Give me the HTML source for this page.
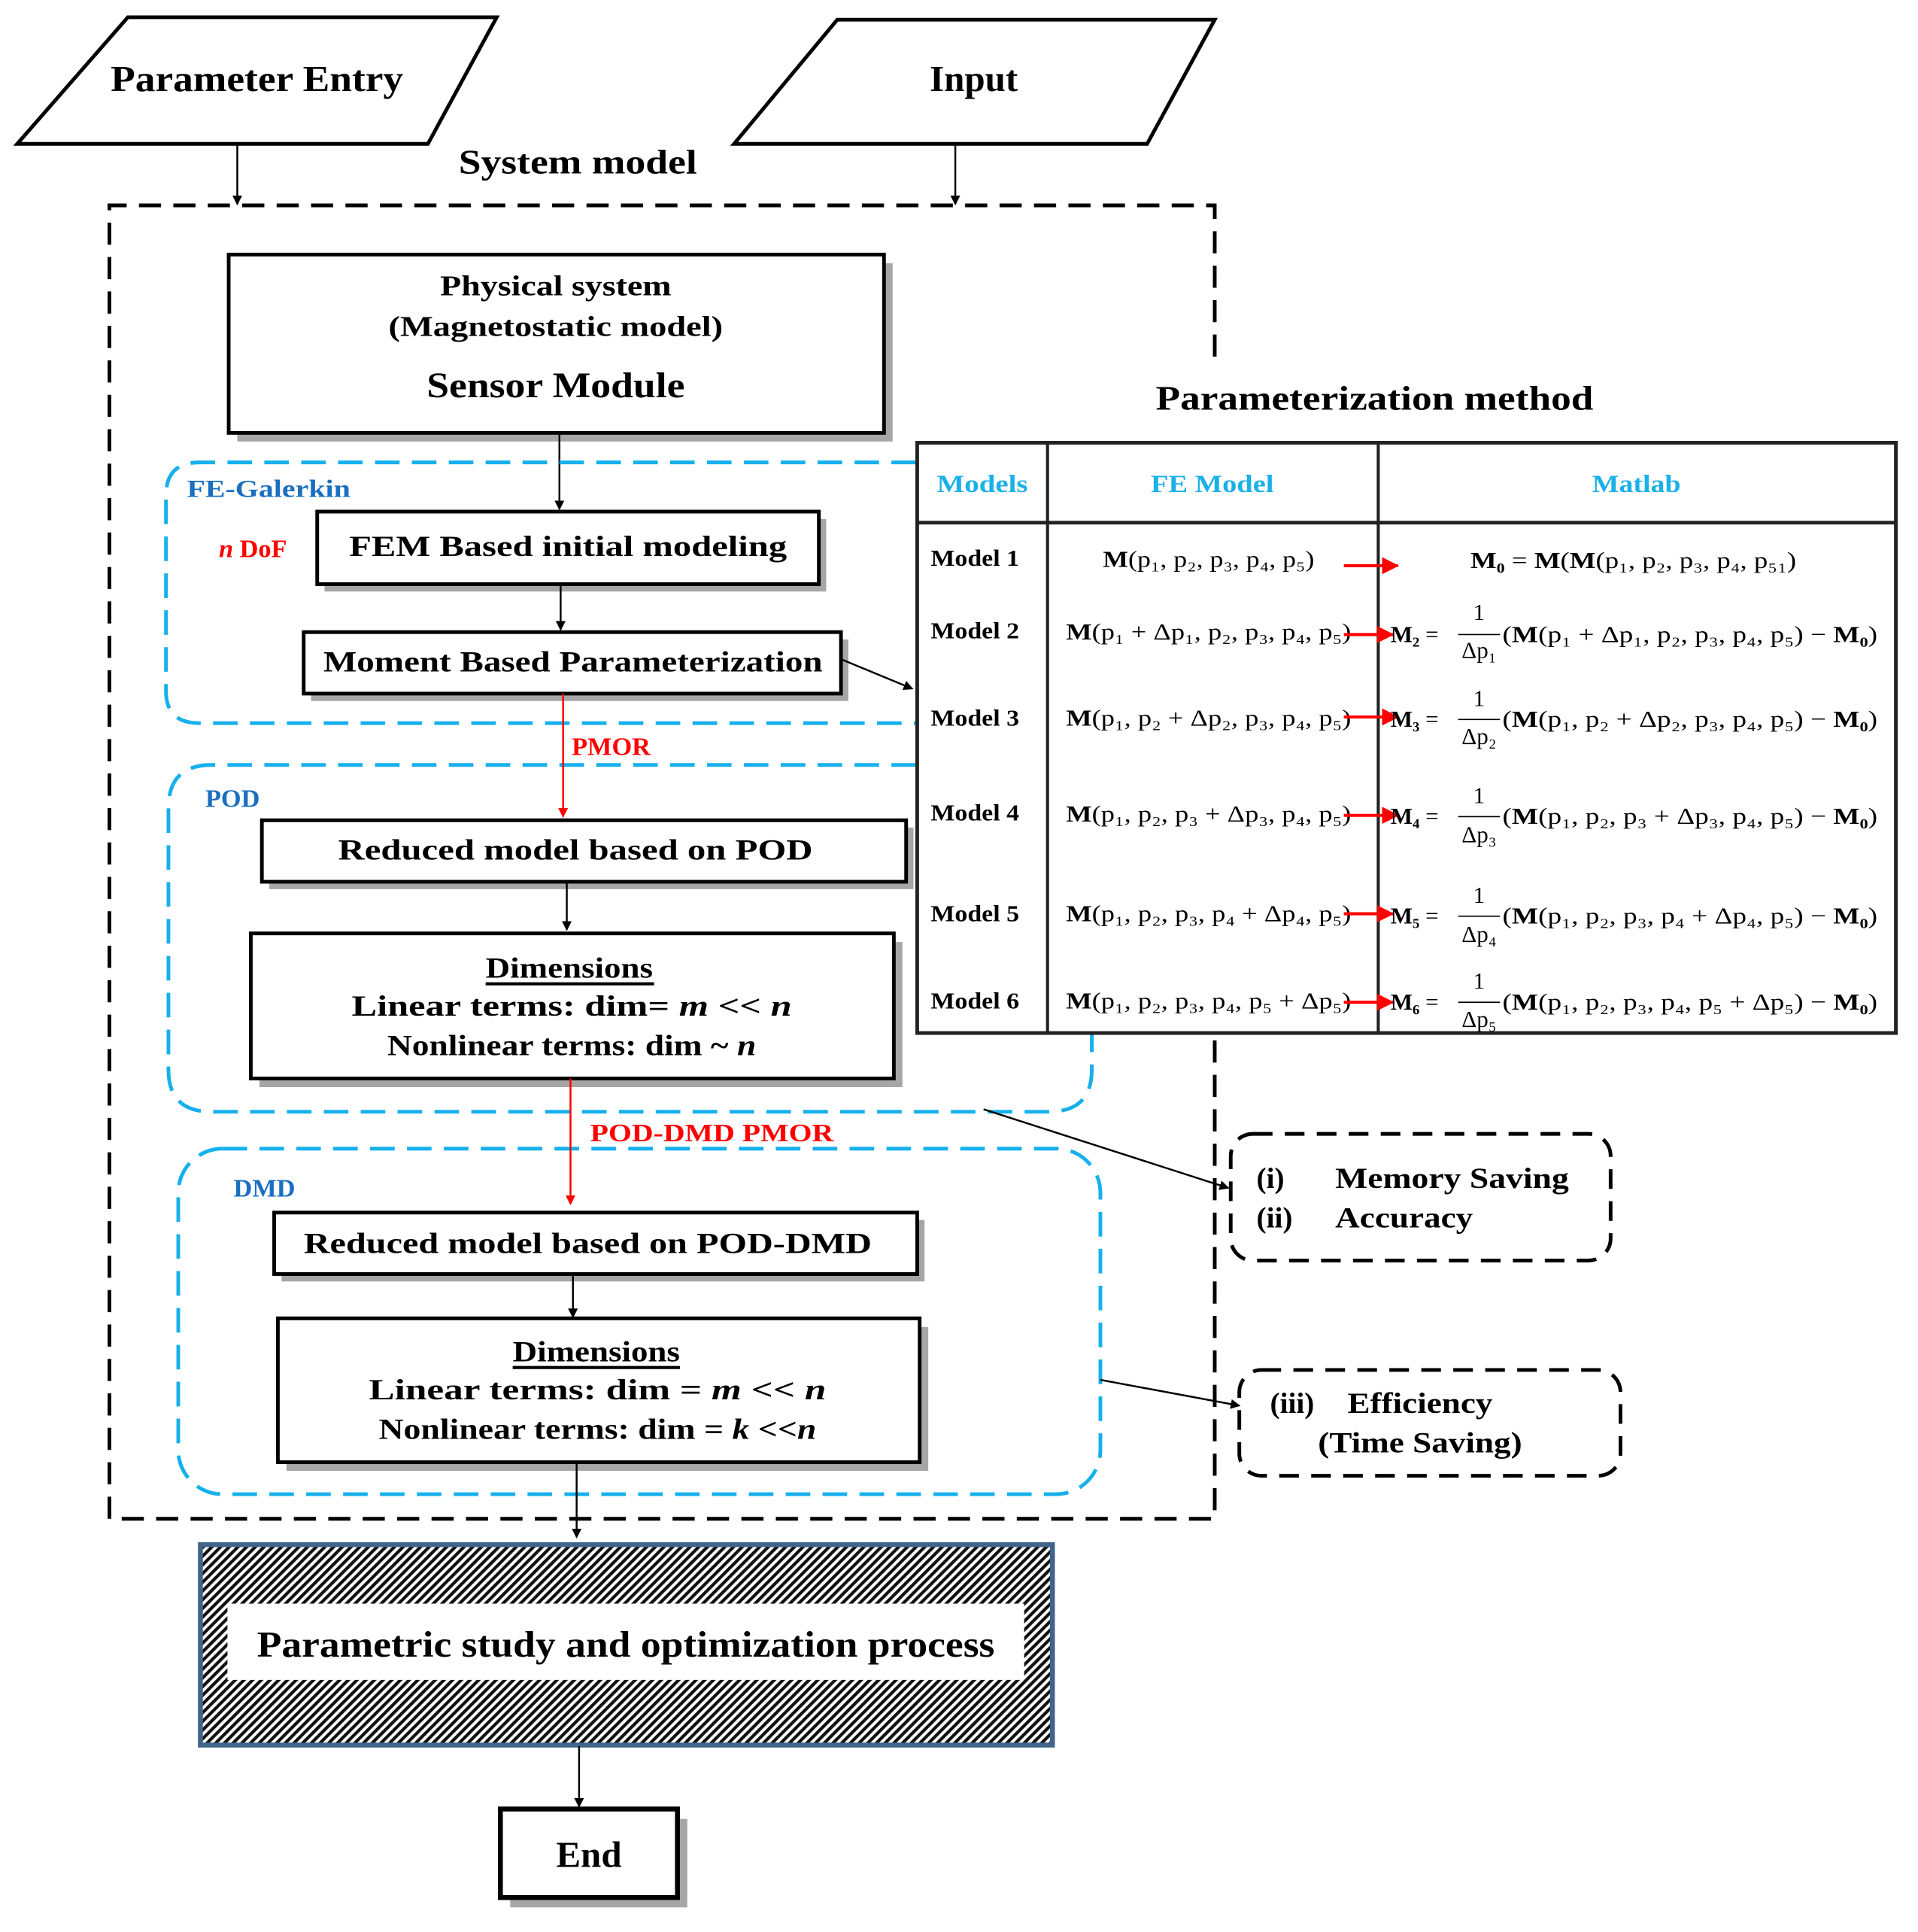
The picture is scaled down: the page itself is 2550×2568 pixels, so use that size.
<!DOCTYPE html>
<html><head><meta charset="utf-8"><style>html,body{margin:0;padding:0;background:#fff}svg{display:block}</style></head>
<body>
<svg width="2550" height="2568" viewBox="0 0 1560 1571" xmlns="http://www.w3.org/2000/svg" font-family="'Liberation Serif', serif" font-weight="bold">
<defs>
<marker id="ah" markerWidth="8" markerHeight="8" refX="7" refY="4" orient="auto" markerUnits="userSpaceOnUse"><path d="M0,0 L8,4 L0,8 z" fill="#000"/></marker>
<marker id="ahr" markerWidth="8" markerHeight="8" refX="7" refY="4" orient="auto" markerUnits="userSpaceOnUse"><path d="M0,0 L8,4 L0,8 z" fill="#f00"/></marker>
<marker id="ahR" markerWidth="14" markerHeight="14" refX="13" refY="7" orient="auto" markerUnits="userSpaceOnUse"><path d="M0,0 L14,7 L0,14 z" fill="#f00"/></marker>
<pattern id="hatch" width="5" height="5" patternUnits="userSpaceOnUse" patternTransform="rotate(45)"><rect width="5" height="5" fill="#fff"/><rect width="2.6" height="5" fill="#111"/></pattern>
</defs>

<polygon points="14,117 104,14 404,14 348,117" fill="#fff" stroke="#000" stroke-width="3"/>
<text x="209" y="74" font-size="30" text-anchor="middle" textLength="238" lengthAdjust="spacingAndGlyphs">Parameter Entry</text>
<polygon points="597,117 681,16 988,16 933,117" fill="#fff" stroke="#000" stroke-width="3"/>
<text x="792" y="74" font-size="30" text-anchor="middle">Input</text>
<text x="470" y="141" font-size="28" text-anchor="middle" textLength="194" lengthAdjust="spacingAndGlyphs">System model</text>
<line x1="193" y1="117" x2="193" y2="166" stroke="#000" stroke-width="1.5" marker-end="url(#ah)"/>
<line x1="777" y1="117" x2="777" y2="166" stroke="#000" stroke-width="1.5" marker-end="url(#ah)"/>

<path d="M988,290 L988,167 L89,167 L89,1235 L988,1235 L988,840" fill="none" stroke="#000" stroke-width="3" stroke-dasharray="18,10"/>

<rect x="193" y="214" width="533" height="145" fill="#a6a6a6"/>
<rect x="186" y="207" width="533" height="145" fill="#fff" stroke="#000" stroke-width="3"/>
<text x="452" y="240" font-size="23" text-anchor="middle" textLength="188" lengthAdjust="spacingAndGlyphs">Physical system</text>
<text x="452" y="273" font-size="23" text-anchor="middle" textLength="272" lengthAdjust="spacingAndGlyphs">(Magnetostatic model)</text>
<text x="452" y="323" font-size="29" text-anchor="middle" textLength="210" lengthAdjust="spacingAndGlyphs">Sensor Module</text>
<line x1="455" y1="352" x2="455" y2="414" stroke="#000" stroke-width="1.5" marker-end="url(#ah)"/>

<path d="M745,376 L162,376 Q135,376 135,403 L135,562 Q135,588 162,588 L745,588" fill="none" stroke="#16b0ec" stroke-width="3" stroke-dasharray="20,10"/>
<path d="M745,622 L172,622 Q137,622 137,657 L137,870 Q137,904 172,904 L853,904 Q888,904 888,870 L888,840" fill="none" stroke="#16b0ec" stroke-width="3" stroke-dasharray="20,10"/>
<rect x="145" y="934" width="750" height="281" rx="36" fill="none" stroke="#16b0ec" stroke-width="3" stroke-dasharray="20,10"/>
<text x="152" y="404" font-size="20" fill="#1a6fc0" textLength="133" lengthAdjust="spacingAndGlyphs">FE-Galerkin</text>
<text x="167" y="656" font-size="21" fill="#1a6fc0">POD</text>
<text x="190" y="973" font-size="21" fill="#1a6fc0">DMD</text>
<text x="178" y="453" font-size="21" fill="#f00"><tspan font-style="italic">n</tspan> DoF</text>

<rect x="264" y="422" width="408" height="59" fill="#a6a6a6"/>
<rect x="258" y="416" width="408" height="59" fill="#fff" stroke="#000" stroke-width="3"/>
<text x="462" y="452" font-size="24" text-anchor="middle" textLength="356" lengthAdjust="spacingAndGlyphs">FEM  Based  initial  modeling</text>
<line x1="456" y1="475" x2="456" y2="512" stroke="#000" stroke-width="1.5" marker-end="url(#ah)"/>

<rect x="253" y="520" width="437" height="50" fill="#a6a6a6"/>
<rect x="247" y="514" width="437" height="50" fill="#fff" stroke="#000" stroke-width="3"/>
<text x="466" y="546" font-size="24" text-anchor="middle" textLength="406" lengthAdjust="spacingAndGlyphs">Moment  Based  Parameterization</text>
<line x1="684" y1="536" x2="742" y2="560" stroke="#000" stroke-width="1.5" marker-end="url(#ah)"/>

<line x1="458" y1="564" x2="458" y2="664" stroke="#f00" stroke-width="1.5" marker-end="url(#ahr)"/>
<text x="465" y="614" font-size="21" fill="#f00">PMOR</text>

<rect x="219" y="673" width="524" height="50" fill="#a6a6a6"/>
<rect x="213" y="667" width="524" height="50" fill="#fff" stroke="#000" stroke-width="3"/>
<text x="468" y="699" font-size="24" text-anchor="middle" textLength="386" lengthAdjust="spacingAndGlyphs">Reduced  model  based  on  POD</text>
<line x1="461" y1="717" x2="461" y2="756" stroke="#000" stroke-width="1.5" marker-end="url(#ah)"/>

<rect x="211" y="766" width="523" height="118" fill="#a6a6a6"/>
<rect x="204" y="759" width="523" height="118" fill="#fff" stroke="#000" stroke-width="3"/>
<text x="463" y="795" font-size="24" text-anchor="middle" textLength="136" lengthAdjust="spacingAndGlyphs">Dimensions</text>
<line x1="395" y1="800" x2="532" y2="800" stroke="#000" stroke-width="2.5"/>
<text x="465" y="826" font-size="24" text-anchor="middle" textLength="358" lengthAdjust="spacingAndGlyphs">Linear  terms:  dim=  <tspan font-style="italic">m</tspan>  &lt;&lt;  <tspan font-style="italic">n</tspan></text>
<text x="465" y="858" font-size="24" text-anchor="middle" textLength="300" lengthAdjust="spacingAndGlyphs">Nonlinear terms: dim ~ <tspan font-style="italic">n</tspan></text>

<line x1="464" y1="877" x2="464" y2="979" stroke="#f00" stroke-width="1.5" marker-end="url(#ahr)"/>
<text x="480" y="928" font-size="21" fill="#f00" textLength="198" lengthAdjust="spacingAndGlyphs">POD-DMD PMOR</text>

<rect x="229" y="992" width="523" height="50" fill="#a6a6a6"/>
<rect x="223" y="986" width="523" height="50" fill="#fff" stroke="#000" stroke-width="3"/>
<text x="478" y="1019" font-size="24" text-anchor="middle" textLength="462" lengthAdjust="spacingAndGlyphs">Reduced  model  based  on  POD-DMD</text>
<line x1="466" y1="1036" x2="466" y2="1071" stroke="#000" stroke-width="1.5" marker-end="url(#ah)"/>

<rect x="233" y="1079" width="522" height="117" fill="#a6a6a6"/>
<rect x="226" y="1072" width="522" height="117" fill="#fff" stroke="#000" stroke-width="3"/>
<text x="485" y="1107" font-size="24" text-anchor="middle" textLength="136" lengthAdjust="spacingAndGlyphs">Dimensions</text>
<line x1="417" y1="1112" x2="553" y2="1112" stroke="#000" stroke-width="2.5"/>
<text x="486" y="1138" font-size="24" text-anchor="middle" textLength="372" lengthAdjust="spacingAndGlyphs">Linear  terms:  dim  =  <tspan font-style="italic">m</tspan>  &lt;&lt;  <tspan font-style="italic">n</tspan></text>
<text x="486" y="1170" font-size="24" text-anchor="middle" textLength="356" lengthAdjust="spacingAndGlyphs">Nonlinear terms: dim = <tspan font-style="italic">k</tspan> &lt;&lt;<tspan font-style="italic">n</tspan></text>
<line x1="469" y1="1189" x2="469" y2="1250" stroke="#000" stroke-width="1.5" marker-end="url(#ah)"/>

<rect x="163" y="1256" width="693" height="163" fill="url(#hatch)" stroke="#41648c" stroke-width="4"/>
<rect x="185" y="1304" width="648" height="62" fill="#fff"/>
<text x="509" y="1347" font-size="30" text-anchor="middle" textLength="600" lengthAdjust="spacingAndGlyphs">Parametric study and optimization process</text>
<line x1="471" y1="1420" x2="471" y2="1469" stroke="#000" stroke-width="1.5" marker-end="url(#ah)"/>

<rect x="415" y="1479" width="144" height="72" fill="#a6a6a6"/>
<rect x="407" y="1471" width="144" height="72" fill="#fff" stroke="#000" stroke-width="4"/>
<text x="479" y="1518" font-size="30" text-anchor="middle">End</text>

<rect x="1001" y="922" width="309" height="103" rx="18" fill="none" stroke="#000" stroke-width="3" stroke-dasharray="16,10"/>
<text x="1022" y="966" font-size="24">(i)</text>
<text x="1086" y="966" font-size="24" textLength="190" lengthAdjust="spacingAndGlyphs">Memory Saving</text>
<text x="1022" y="998" font-size="24">(ii)</text>
<text x="1086" y="998" font-size="24" textLength="112" lengthAdjust="spacingAndGlyphs">Accuracy</text>
<line x1="800" y1="902" x2="999" y2="966" stroke="#000" stroke-width="1.5" marker-end="url(#ah)"/>

<rect x="1008" y="1114" width="310" height="86" rx="18" fill="none" stroke="#000" stroke-width="3" stroke-dasharray="16,10"/>
<text x="1033" y="1149" font-size="24">(iii)</text>
<text x="1096" y="1149" font-size="24" textLength="118" lengthAdjust="spacingAndGlyphs">Efficiency</text>
<text x="1072" y="1181" font-size="24" textLength="166" lengthAdjust="spacingAndGlyphs">(Time Saving)</text>
<line x1="895" y1="1122" x2="1008" y2="1143" stroke="#000" stroke-width="1.5" marker-end="url(#ah)"/>

<text x="1118" y="333" font-size="28" text-anchor="middle" textLength="356" lengthAdjust="spacingAndGlyphs">Parameterization method</text>
<rect x="746" y="360" width="796" height="480" fill="#fff" stroke="#222" stroke-width="3"/>
<line x1="852" y1="360" x2="852" y2="840" stroke="#222" stroke-width="2.5"/>
<line x1="1121" y1="360" x2="1121" y2="840" stroke="#222" stroke-width="2.5"/>
<line x1="746" y1="425" x2="1542" y2="425" stroke="#222" stroke-width="3"/>
<g font-size="20" fill="#1ab0e8" text-anchor="middle">
<text x="799" y="400" textLength="74" lengthAdjust="spacingAndGlyphs">Models</text>
<text x="986" y="400" textLength="100" lengthAdjust="spacingAndGlyphs">FE Model</text>
<text x="1331" y="400" textLength="72" lengthAdjust="spacingAndGlyphs">Matlab</text>
</g>
<g font-size="19">
<text x="757" y="460" textLength="72" lengthAdjust="spacingAndGlyphs">Model 1</text>
<text x="757" y="519" textLength="72" lengthAdjust="spacingAndGlyphs">Model 2</text>
<text x="757" y="590" textLength="72" lengthAdjust="spacingAndGlyphs">Model 3</text>
<text x="757" y="667" textLength="72" lengthAdjust="spacingAndGlyphs">Model 4</text>
<text x="757" y="749" textLength="72" lengthAdjust="spacingAndGlyphs">Model 5</text>
<text x="757" y="820" textLength="72" lengthAdjust="spacingAndGlyphs">Model 6</text>
</g>
<g font-size="19" font-weight="normal">
<text x="897" y="461" textLength="172" lengthAdjust="spacingAndGlyphs"><tspan font-weight="bold">M</tspan>(p₁, p₂, p₃, p₄, p₅)</text>
<text x="867" y="520" textLength="232" lengthAdjust="spacingAndGlyphs"><tspan font-weight="bold">M</tspan>(p₁ + Δp₁, p₂, p₃, p₄, p₅)</text>
<text x="867" y="590" textLength="232" lengthAdjust="spacingAndGlyphs"><tspan font-weight="bold">M</tspan>(p₁, p₂ + Δp₂, p₃, p₄, p₅)</text>
<text x="867" y="668" textLength="232" lengthAdjust="spacingAndGlyphs"><tspan font-weight="bold">M</tspan>(p₁, p₂, p₃ + Δp₃, p₄, p₅)</text>
<text x="867" y="749" textLength="232" lengthAdjust="spacingAndGlyphs"><tspan font-weight="bold">M</tspan>(p₁, p₂, p₃, p₄ + Δp₄, p₅)</text>
<text x="867" y="820" textLength="232" lengthAdjust="spacingAndGlyphs"><tspan font-weight="bold">M</tspan>(p₁, p₂, p₃, p₄, p₅ + Δp₅)</text>
<text x="1196" y="462" textLength="265" lengthAdjust="spacingAndGlyphs"><tspan font-weight="bold">M₀</tspan> = <tspan font-weight="bold">M</tspan>(<tspan font-weight="bold">M</tspan>(p₁, p₂, p₃, p₄, p₅₁)</text>
</g>
<g stroke="#f00" stroke-width="2.5">
<line x1="1093" y1="460" x2="1137" y2="460" marker-end="url(#ahR)"/>
<line x1="1093" y1="516" x2="1133" y2="516" marker-end="url(#ahR)"/>
<line x1="1093" y1="583" x2="1137" y2="583" marker-end="url(#ahR)"/>
<line x1="1093" y1="663" x2="1137" y2="663" marker-end="url(#ahR)"/>
<line x1="1093" y1="743" x2="1133" y2="743" marker-end="url(#ahR)"/>
<line x1="1093" y1="815" x2="1133" y2="815" marker-end="url(#ahR)"/>
</g>
<g font-size="19" font-weight="normal">
<text x="1131" y="522"><tspan font-weight="bold">M₂</tspan> =</text><text x="1203" y="504" text-anchor="middle">1</text><line x1="1186" y1="516" x2="1220" y2="516" stroke="#000"/><text x="1203" y="535" text-anchor="middle">Δp₁</text>
<text x="1222" y="522" textLength="305" lengthAdjust="spacingAndGlyphs">(<tspan font-weight="bold">M</tspan>(p₁ + Δp₁, p₂, p₃, p₄, p₅) − <tspan font-weight="bold">M₀</tspan>)</text>
<text x="1131" y="591"><tspan font-weight="bold">M₃</tspan> =</text><text x="1203" y="574" text-anchor="middle">1</text><line x1="1186" y1="585" x2="1220" y2="585" stroke="#000"/><text x="1203" y="605" text-anchor="middle">Δp₂</text>
<text x="1222" y="591" textLength="305" lengthAdjust="spacingAndGlyphs">(<tspan font-weight="bold">M</tspan>(p₁, p₂ + Δp₂, p₃, p₄, p₅) − <tspan font-weight="bold">M₀</tspan>)</text>
<text x="1131" y="670"><tspan font-weight="bold">M₄</tspan> =</text><text x="1203" y="653" text-anchor="middle">1</text><line x1="1186" y1="664" x2="1220" y2="664" stroke="#000"/><text x="1203" y="685" text-anchor="middle">Δp₃</text>
<text x="1222" y="670" textLength="305" lengthAdjust="spacingAndGlyphs">(<tspan font-weight="bold">M</tspan>(p₁, p₂, p₃ + Δp₃, p₄, p₅) − <tspan font-weight="bold">M₀</tspan>)</text>
<text x="1131" y="751"><tspan font-weight="bold">M₅</tspan> =</text><text x="1203" y="734" text-anchor="middle">1</text><line x1="1186" y1="745" x2="1220" y2="745" stroke="#000"/><text x="1203" y="766" text-anchor="middle">Δp₄</text>
<text x="1222" y="751" textLength="305" lengthAdjust="spacingAndGlyphs">(<tspan font-weight="bold">M</tspan>(p₁, p₂, p₃, p₄ + Δp₄, p₅) − <tspan font-weight="bold">M₀</tspan>)</text>
<text x="1131" y="821"><tspan font-weight="bold">M₆</tspan> =</text><text x="1203" y="804" text-anchor="middle">1</text><line x1="1186" y1="815" x2="1220" y2="815" stroke="#000"/><text x="1203" y="835" text-anchor="middle">Δp₅</text>
<text x="1222" y="821" textLength="305" lengthAdjust="spacingAndGlyphs">(<tspan font-weight="bold">M</tspan>(p₁, p₂, p₃, p₄, p₅ + Δp₅) − <tspan font-weight="bold">M₀</tspan>)</text>
</g>
</svg>
</body></html>
